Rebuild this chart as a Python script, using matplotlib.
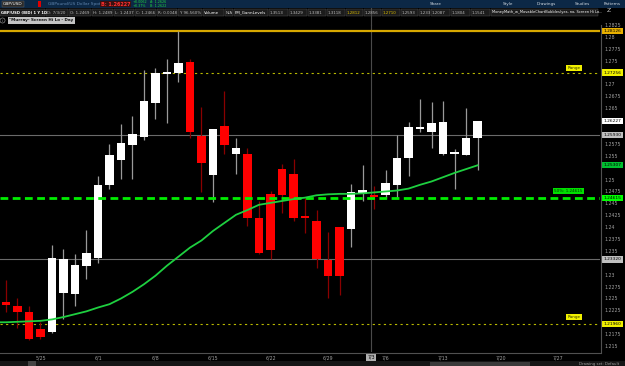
import numpy as np
import matplotlib
matplotlib.use('Agg')
import matplotlib.pyplot as plt
import matplotlib.transforms as mtransforms
from matplotlib.patches import Rectangle
from matplotlib.lines import Line2D

# daily GBP/USD candles, 5/20 .. 7/16
opens = [1.2242, 1.2234, 1.2221, 1.2186, 1.2179, 1.2261, 1.2259, 1.2319, 1.2336, 1.2489,
         1.2541, 1.2572, 1.2589, 1.2662, 1.2721, 1.2725, 1.2748, 1.2591, 1.2510, 1.2612,
         1.2553, 1.2553, 1.2420, 1.2470, 1.2522, 1.2512, 1.2424, 1.2413, 1.2330, 1.2401,
         1.2397, 1.2470, 1.2468, 1.2468, 1.2489, 1.2545, 1.2606, 1.2601, 1.2553, 1.2553,
         1.2551, 1.2587]
highs = [1.2288, 1.2250, 1.2234, 1.2200, 1.2363, 1.2355, 1.2344, 1.2395, 1.2507, 1.2574,
         1.2616, 1.2633, 1.2731, 1.2735, 1.2754, 1.2812, 1.2754, 1.2652, 1.2607, 1.2687,
         1.2587, 1.2566, 1.2455, 1.2476, 1.2533, 1.2543, 1.2461, 1.2436, 1.2390, 1.2401,
         1.2491, 1.2530, 1.2487, 1.2520, 1.2593, 1.2622, 1.2670, 1.2664, 1.2666, 1.2564,
         1.2650, 1.2624]
lows = [1.2221, 1.2188, 1.2163, 1.2165, 1.2177, 1.2206, 1.2234, 1.2292, 1.2324, 1.2480,
        1.2501, 1.2501, 1.2583, 1.2627, 1.2618, 1.2706, 1.2587, 1.2474, 1.2453, 1.2553,
        1.2512, 1.2403, 1.2344, 1.2334, 1.2430, 1.2413, 1.2388, 1.2315, 1.2252, 1.2257,
        1.2359, 1.2455, 1.2438, 1.2461, 1.2461, 1.2507, 1.2599, 1.2566, 1.2551, 1.2480,
        1.2551, 1.2520]
closes = [1.2236, 1.2221, 1.2165, 1.2169, 1.2336, 1.2334, 1.2321, 1.2345, 1.2489, 1.2551,
          1.2576, 1.2595, 1.2666, 1.2725, 1.2727, 1.2746, 1.2599, 1.2535, 1.2606, 1.2572,
          1.2566, 1.2420, 1.2346, 1.2351, 1.2468, 1.2420, 1.2420, 1.2334, 1.2298, 1.2298,
          1.2474, 1.2478, 1.2464, 1.2493, 1.2545, 1.2610, 1.2610, 1.2620, 1.2622, 1.2558,
          1.2587, 1.2624]

# moving average line, one value per bar starting one bar before the first candle
ma_vals = [1.2200, 1.2200, 1.2201, 1.2202, 1.2203, 1.2206, 1.2211, 1.2217, 1.2223, 1.2231,
           1.2238, 1.2250, 1.2264, 1.2280, 1.2298, 1.2319, 1.2338, 1.2357, 1.2372, 1.2392,
           1.2409, 1.2426, 1.2436, 1.2447, 1.2451, 1.2455, 1.2459, 1.2462, 1.2467, 1.2469,
           1.2470, 1.2470, 1.2471, 1.2473, 1.2475, 1.2477, 1.2481, 1.2489, 1.2496, 1.2505,
           1.2514, 1.2522, 1.2530]

date_pos = [3, 8, 13, 18, 23, 28, 33, 38, 43, 48]
date_labels = ['5/25', '6/1', '6/8', '6/15', '6/22', '6/29', '7/6', '7/13', '7/20', '7/27']

# study levels
gann_high = 1.2812
range_levels = [1.2725, 1.2196]
hilo_levels = [1.2593, 1.2332]
half_level = 1.24615
last_price = 1.26227

# header boxes: text, left px, right px, colour
header_items = [('GBP/USD (BID) 1 Y 1D', 0, 45, 'white'), ('D: 7/3/20', 46, 68, '#bbbbbb'),
                ('O: 1.2469', 69, 91, '#bbbbbb'), ('H: 1.2489', 92, 113, '#bbbbbb'),
                ('L: 1.2437', 114, 134, '#bbbbbb'), ('C: 1.2466', 135, 156, '#bbbbbb'),
                ('R: 0.0048', 157, 177, '#bbbbbb'), ('Y: 96.560%', 178, 202, '#bbbbbb'),
                ('Volume', 203, 224, 'white'), ('N/A', 225, 233, '#bbbbbb'),
                ('PM_GannLevels', 234, 268, 'white'), ('1.3513', 269, 288, '#bbbbbb'),
                ('1.3429', 289, 307, '#bbbbbb'), ('1.3381', 308, 326, '#bbbbbb'),
                ('1.3118', 327, 345, '#bbbbbb'), ('1.2812', 346, 363, '#e0c000'),
                ('1.2856', 364, 381, '#bbbbbb'), ('1.2710', 382, 400, '#e0c000'),
                ('1.2593', 401, 418, '#bbbbbb'), ('1.233', 419, 430, '#bbbbbb'),
                ('1.2087', 431, 450, '#bbbbbb'), ('1.1804', 451, 470, '#bbbbbb'),
                ('1.1541', 471, 490, '#bbbbbb'),
                ('MoneyMath_w_MovableChartBubbles(yes, no, Screen Hi Lo...', 491, 598, 'white')]
toolbar_items = [('Share', 430), ('Style', 503), ('Drawings', 537), ('Studies', 575), ('Patterns', 604)]

W, H = 625, 366


def fx(x):
    return x / W


def fy(y):
    return 1 - y / H


fig = plt.figure(figsize=(6.25, 3.66), dpi=100, facecolor='black')

# main price panel: x 0..600 px, y 25..352 px
ax = fig.add_axes([0, fy(352), fx(600), (352 - 25) / H])
ax.set_facecolor('black')
for s in ax.spines.values():
    s.set_visible(False)

x = np.arange(len(opens))
o = np.array(opens)
c = np.array(closes)
up = c >= o
body_col = np.where(up, 'white', '#ff0000')
wick_col = np.where(up, '#9a9a9a', '#8a0000')
bottom = np.minimum(o, c)
height = np.maximum(np.abs(c - o), 0.0003)

ax.vlines(x, lows, highs, colors=wick_col, lw=0.9, zorder=2)
ax.bar(x, height, bottom=bottom, width=0.74, color=body_col, zorder=3)

# study lines
ax.axhline(gann_high, color='#d8a800', lw=1.6, zorder=1)
for lv in range_levels:
    ax.axhline(lv, color='#b8b800', lw=0.8, ls=(0, (2, 3)), zorder=1)
for lv in hilo_levels:
    ax.axhline(lv, color='#6a6a6a', lw=0.8, zorder=1)
ax.axhline(half_level, color='#00ee00', lw=2.0, ls=(0, (2.8, 1.6)), zorder=4)
ax.plot(np.arange(-1, len(ma_vals) - 1), ma_vals, color='#1ed040', lw=1.3, zorder=5)
ax.axvline(31.75, color='#4a4a4a', lw=0.8, zorder=0)

ax.set_xlim(-0.52, 51.65)
ax.set_ylim(1.21375, 1.28209)

# chart bubbles
ax.text(49.4, 1.2735, 'Range', fontsize=3, color='#333300', ha='center', va='center',
        bbox=dict(boxstyle='square,pad=0.3', fc='#f0f000', ec='none'), zorder=6)
ax.text(49.4, 1.2211, 'Range', fontsize=3, color='#333300', ha='center', va='center',
        bbox=dict(boxstyle='square,pad=0.3', fc='#f0f000', ec='none'), zorder=6)
ax.text(48.9, 1.2476, '50%: 1.24615', fontsize=3, color='#003300', ha='center', va='center',
        bbox=dict(boxstyle='square,pad=0.3', fc='#00e000', ec='none'), zorder=6)

price_tags = [(gann_high, '1.28126', '#e8b000'),
              (range_levels[0], '1.27256', '#f0f000'),
              (last_price, '1.26227', 'white'),
              (hilo_levels[0], '1.25930', '#c0c0c0'),
              (ma_vals[-1], '1.25307', '#00c030'),
              (half_level, '1.24615', '#00ff00'),
              (hilo_levels[1], '1.23320', '#c0c0c0'),
              (range_levels[1], '1.21960', '#f0f000')]

# right price axis (labels under a price tag are covered, as on the platform)
yt = np.arange(1.215, 1.2826, 0.0025)
tag_levels = np.array([t[0] for t in price_tags])
yt = [v for v in yt if np.min(np.abs(tag_levels - v)) > 0.0009]
ax.yaxis.tick_right()
ax.set_yticks(yt)
ax.set_yticklabels([f'{v:.4f}'.rstrip('0').rstrip('.') for v in yt])
ax.tick_params(axis='y', length=0, pad=3, labelsize=3.4, labelcolor='#a0a0a0')

ax.set_xticks(date_pos)
ax.set_xticklabels(date_labels)
ax.tick_params(axis='x', length=0, pad=2.5, labelsize=3.4, labelcolor='#a0a0a0')

tr = mtransforms.blended_transform_factory(ax.transAxes, ax.transData)
for lv, s, fc in price_tags:
    ax.text(1.006, lv, s, transform=tr, fontsize=3.2, color='black', ha='left', va='center',
            clip_on=False, bbox=dict(boxstyle='square,pad=0.25', fc=fc, ec='none'), zorder=7)

trx = mtransforms.blended_transform_factory(ax.transData, ax.transAxes)
ax.text(31.75, -0.008, '7/3', transform=trx, fontsize=3.4, color='black', ha='center', va='top',
        clip_on=False, bbox=dict(boxstyle='square,pad=0.25', fc='#b0b0b0', ec='none'))

# panel frames
fig.add_artist(Line2D([fx(600.5), fx(600.5)], [fy(25), fy(352)], color='#505050', lw=0.8))
fig.add_artist(Line2D([0, fx(600.5)], [fy(352.5), fy(352.5)], color='#505050', lw=0.8))
fig.add_artist(Line2D([fx(371), fx(371)], [fy(8), fy(25)], color='#4a4a4a', lw=0.8))

# top tool bar
fig.add_artist(Rectangle((0, fy(8)), 1, 8 / H, transform=fig.transFigure, fc='#0c2846', ec='none'))
fig.text(fx(3), fy(4), 'GBP/USD', fontsize=3.2, color='white', va='center',
         bbox=dict(boxstyle='square,pad=0.3', fc='#2a2a2a', ec='#666666', lw=0.3))
fig.add_artist(Rectangle((fx(38), fy(7)), 3 / W, 6 / H, transform=fig.transFigure, fc='#e00000', ec='none'))
fig.text(fx(48), fy(4), 'GBPound/US Dollar Spot', fontsize=3.2, color='#5f84ad', va='center')
fig.text(fx(101), fy(4), 'B: 1.26227', fontsize=3.5, color='#ff3030', va='center', weight='bold',
         bbox=dict(boxstyle='square,pad=0.15', fc='#3a1010', ec='none'))
fig.text(fx(133), fy(2.3), '+0.0062', fontsize=2.4, color='#20d040', va='center')
fig.text(fx(133), fy(5.9), '+0.37%', fontsize=2.4, color='#20d040', va='center')
fig.text(fx(150), fy(2.3), 'A: 1.2626', fontsize=2.4, color='#20d040', va='center')
fig.text(fx(150), fy(5.9), 'B: 1.2622', fontsize=2.4, color='#20d040', va='center')
for s, px in toolbar_items:
    fig.text(fx(px), fy(4), s, fontsize=3.0, color='#d0d8e0', va='center')

# study header row
for s, x0, x1, col in header_items:
    fig.add_artist(Rectangle((fx(x0), fy(16)), (x1 - x0) / W, 7 / H, transform=fig.transFigure,
                             fc='#1c1c1c', ec='#555555', lw=0.3))
    fs = 2.6 if x0 > 480 else (2.7 if x0 == 0 else 2.9)
    fig.text(fx(x0 + 1), fy(12.5), s, fontsize=fs, color=col,
             va='center', weight='bold' if x0 == 0 else 'normal')
fig.text(fx(607), fy(11), 'Z', fontsize=4.5, color='#cccccc', va='center')

fig.text(fx(2.5), fy(20.5), 'i', fontsize=2.6, color='#aaaaaa', va='center', ha='center',
         bbox=dict(boxstyle='circle,pad=0.15', fc='none', ec='#aaaaaa', lw=0.4))
fig.text(fx(9), fy(20.5), '"Murray- Screen Hi Lo - Day', fontsize=3.0, color='#111111', va='center',
         weight='bold', bbox=dict(boxstyle='square,pad=0.3', fc='#c4c4c4', ec='none'))

# bottom bar
fig.add_artist(Rectangle((0, 0), 1, 5 / H, transform=fig.transFigure, fc='#161616', ec='none'))
fig.add_artist(Rectangle((fx(28), 0), 8 / W, 5 / H, transform=fig.transFigure, fc='#444444', ec='none'))
fig.add_artist(Rectangle((fx(430), 0), 100 / W, 4 / H, transform=fig.transFigure, fc='#3a3a3a', ec='none'))
fig.text(fx(579), fy(363.5), 'Drawing set: Default', fontsize=2.8, color='#a0a0a0', va='center')

fig.savefig('out.png', dpi=100, facecolor='black')
